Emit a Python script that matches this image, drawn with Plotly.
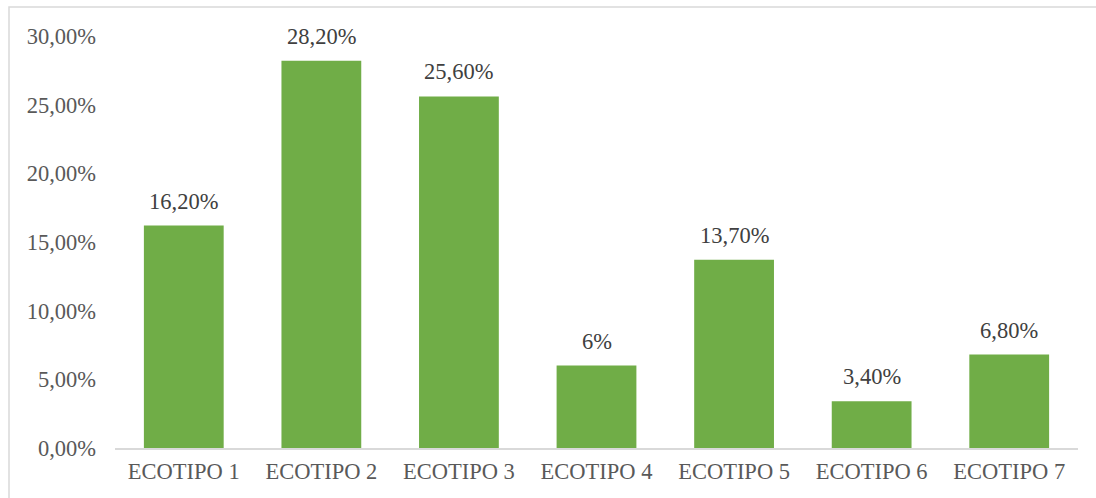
import plotly.graph_objects as go

categories = ["ECOTIPO 1", "ECOTIPO 2", "ECOTIPO 3", "ECOTIPO 4", "ECOTIPO 5", "ECOTIPO 6", "ECOTIPO 7"]
values = [16.2, 28.2, 25.6, 6.0, 13.7, 3.4, 6.8]
value_labels = ["16,20%", "28,20%", "25,60%", "6%", "13,70%", "3,40%", "6,80%"]
y_ticks = [0, 5, 10, 15, 20, 25, 30]
y_tick_labels = ["0,00%", "5,00%", "10,00%", "15,00%", "20,00%", "25,00%", "30,00%"]

W, H = 1096, 498
ml, mr, mt, mb = 115, 18, 36, 50
pw, ph = W - ml - mr, H - mt - mb
FONT = "Liberation Serif"

fig = go.Figure(go.Bar(
    x=categories, y=values,
    marker=dict(color="#70ad47", line=dict(width=0)),
    hoverinfo="x+y",
))

for c, v, t in zip(categories, values, value_labels):
    fig.add_annotation(x=c, y=v, text=t, showarrow=False, xref="x", yref="y",
                       yanchor="bottom", yshift=10,
                       font=dict(family=FONT, size=22.5, color="#404040"))

fig.update_layout(
    width=W, height=H,
    margin=dict(l=ml, r=mr, t=mt, b=mb),
    paper_bgcolor="white", plot_bgcolor="white",
    bargap=0.42,
    showlegend=False,
    font=dict(family=FONT, size=22.5, color="#595959"),
    xaxis=dict(showline=True, linecolor="#d9d9d9", linewidth=1.5, showgrid=False,
               ticks="", tickfont=dict(family=FONT, size=22.5, color="#595959"), ticklabelstandoff=2),
    yaxis=dict(range=[0, 30], tickvals=y_ticks, ticktext=y_tick_labels,
               showgrid=False, showline=False, zeroline=False, ticks="",
               tickfont=dict(family=FONT, size=22.5, color="#595959"), ticklabelstandoff=18),
    shapes=[dict(type="rect", xref="paper", yref="paper",
                 x0=(9 - ml) / pw, x1=(W + 10 - ml) / pw,
                 y0=(ph + mt - (H + 10)) / ph, y1=(H - mb - 7) / ph,
                 line=dict(color="#d9d9d9", width=1.5), fillcolor="rgba(0,0,0,0)", layer="below")],
)

fig.write_html("out.html")
